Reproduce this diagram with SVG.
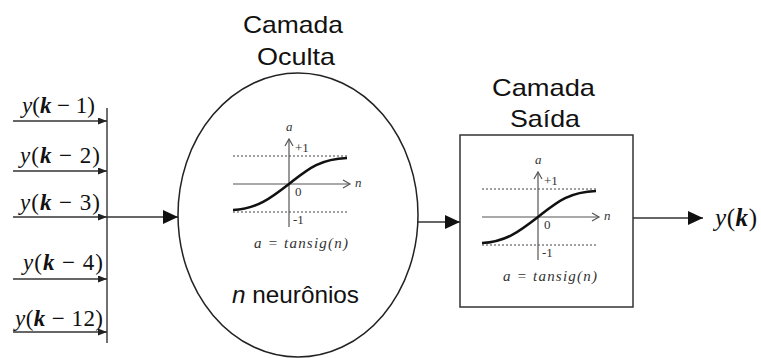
<svg xmlns="http://www.w3.org/2000/svg" xmlns:xlink="http://www.w3.org/1999/xlink" width="761" height="358" viewBox="0 0 761 358">
<style>
.title{font-family:"Liberation Sans",Arial,sans-serif;font-size:24px;fill:#111}
.math{font-family:"Liberation Serif","DejaVu Serif",serif;font-size:23px;fill:#111}
.big{font-size:25px}
.gl{font-family:"Liberation Serif","DejaVu Serif",serif;font-size:13px;fill:#333}
.gi{font-family:"Liberation Serif","DejaVu Serif",serif;font-size:13px;fill:#333;font-style:italic}
.gf{font-family:"Liberation Serif","DejaVu Serif",serif;font-size:15px;fill:#333;font-style:italic}
.ax{stroke:#555;stroke-width:1.2;fill:none}
.dash{stroke:#444;stroke-width:1;stroke-dasharray:2 2;fill:none}
.wire{stroke:#333;stroke-width:1.4;fill:none}
</style>
<defs>
<marker id="sm" markerUnits="userSpaceOnUse" markerWidth="9" markerHeight="7" refX="9" refY="3.5" orient="auto">
<path d="M0,0 L9,3.5 L0,7 z" fill="#222"/>
</marker>
<marker id="big" markerUnits="userSpaceOnUse" markerWidth="15" markerHeight="14" refX="15" refY="7" orient="auto">
<path d="M0,0 L15,7 L0,14 z" fill="#111"/>
</marker>
<g id="tansig">
<line class="dash" x1="-56" y1="-28" x2="58" y2="-28"/>
<line class="dash" x1="-56" y1="28" x2="58" y2="28"/>
<line class="ax" x1="-56" y1="0" x2="61" y2="0"/>
<path class="ax" d="M54,-4 L61,0 L54,4"/>
<line class="ax" x1="0" y1="43" x2="0" y2="-45"/>
<path class="ax" d="M-4,-38 L0,-45 L4,-38"/>
<path d="M-56,26 C-32,25 -18,14 0,0 C18,-14 30,-25 58,-26" stroke="#111" stroke-width="2.6" fill="none"/>
<text class="gi" x="-3" y="-53">a</text>
<text class="gl" x="6" y="-32">+1</text>
<text class="gl" x="6" y="12">0</text>
<text class="gl" x="4" y="40">-1</text>
<text class="gi" x="66" y="3">n</text>
<text class="gf" x="-35" y="64" textLength="94" lengthAdjust="spacing">a = tansig(n)</text>
</g>
</defs>
<rect width="761" height="358" fill="#fff"/>

<g id="connectors">
<line class="wire" x1="107" y1="108" x2="107" y2="343"/>
<line class="wire" x1="13" y1="121" x2="107" y2="121" marker-end="url(#sm)"/>
<line class="wire" x1="13" y1="171" x2="107" y2="171" marker-end="url(#sm)"/>
<line class="wire" x1="13" y1="217" x2="107" y2="217" marker-end="url(#sm)"/>
<line class="wire" x1="13" y1="279" x2="107" y2="279" marker-end="url(#sm)"/>
<line class="wire" x1="13" y1="332" x2="107" y2="332" marker-end="url(#sm)"/>
<line class="wire" x1="107" y1="217" x2="178" y2="217" marker-end="url(#big)"/>
<line class="wire" x1="418" y1="222" x2="460" y2="222" marker-end="url(#big)"/>
<line class="wire" x1="633" y1="218" x2="703" y2="218" marker-end="url(#big)"/>
</g>

<g id="in1"><text class="math" x="22" y="113" textLength="73" lengthAdjust="spacing"><tspan font-style="italic">y</tspan>(<tspan font-style="italic" font-weight="bold">k</tspan> − 1)</text></g>
<g id="in2"><text class="math" x="20" y="163" textLength="80" lengthAdjust="spacing"><tspan font-style="italic">y</tspan>(<tspan font-style="italic" font-weight="bold">k</tspan> − 2)</text></g>
<g id="in3"><text class="math" x="20" y="210" textLength="80" lengthAdjust="spacing"><tspan font-style="italic">y</tspan>(<tspan font-style="italic" font-weight="bold">k</tspan> − 3)</text></g>
<g id="in4"><text class="math" x="23" y="270" textLength="80" lengthAdjust="spacing"><tspan font-style="italic">y</tspan>(<tspan font-style="italic" font-weight="bold">k</tspan> − 4)</text></g>
<g id="in12"><text class="math" x="15" y="326" textLength="88" lengthAdjust="spacing"><tspan font-style="italic">y</tspan>(<tspan font-style="italic" font-weight="bold">k</tspan> − 12)</text></g>

<g id="hidden">
<text class="title" x="243" y="33" textLength="100" lengthAdjust="spacingAndGlyphs">Camada</text>
<text class="title" x="257" y="65" textLength="78" lengthAdjust="spacingAndGlyphs">Oculta</text>
<ellipse cx="298" cy="215" rx="120" ry="142" fill="none" stroke="#222" stroke-width="1.5"/>
<use xlink:href="#tansig" href="#tansig" transform="translate(289,184)"/>
<text class="title" x="232" y="303" textLength="127" lengthAdjust="spacingAndGlyphs"><tspan font-style="italic">n</tspan> neurônios</text>
</g>

<g id="output">
<text class="title" x="492" y="96" textLength="103" lengthAdjust="spacingAndGlyphs">Camada</text>
<text class="title" x="510" y="127" textLength="70" lengthAdjust="spacingAndGlyphs">Saída</text>
<rect x="460" y="135" width="173" height="172" fill="none" stroke="#333" stroke-width="1.5"/>
<use xlink:href="#tansig" href="#tansig" transform="translate(538,217)"/>
</g>

<g id="yk"><text class="math big" x="715" y="226" textLength="42" lengthAdjust="spacing"><tspan font-style="italic">y</tspan>(<tspan font-style="italic" font-weight="bold">k</tspan>)</text></g>
</svg>
